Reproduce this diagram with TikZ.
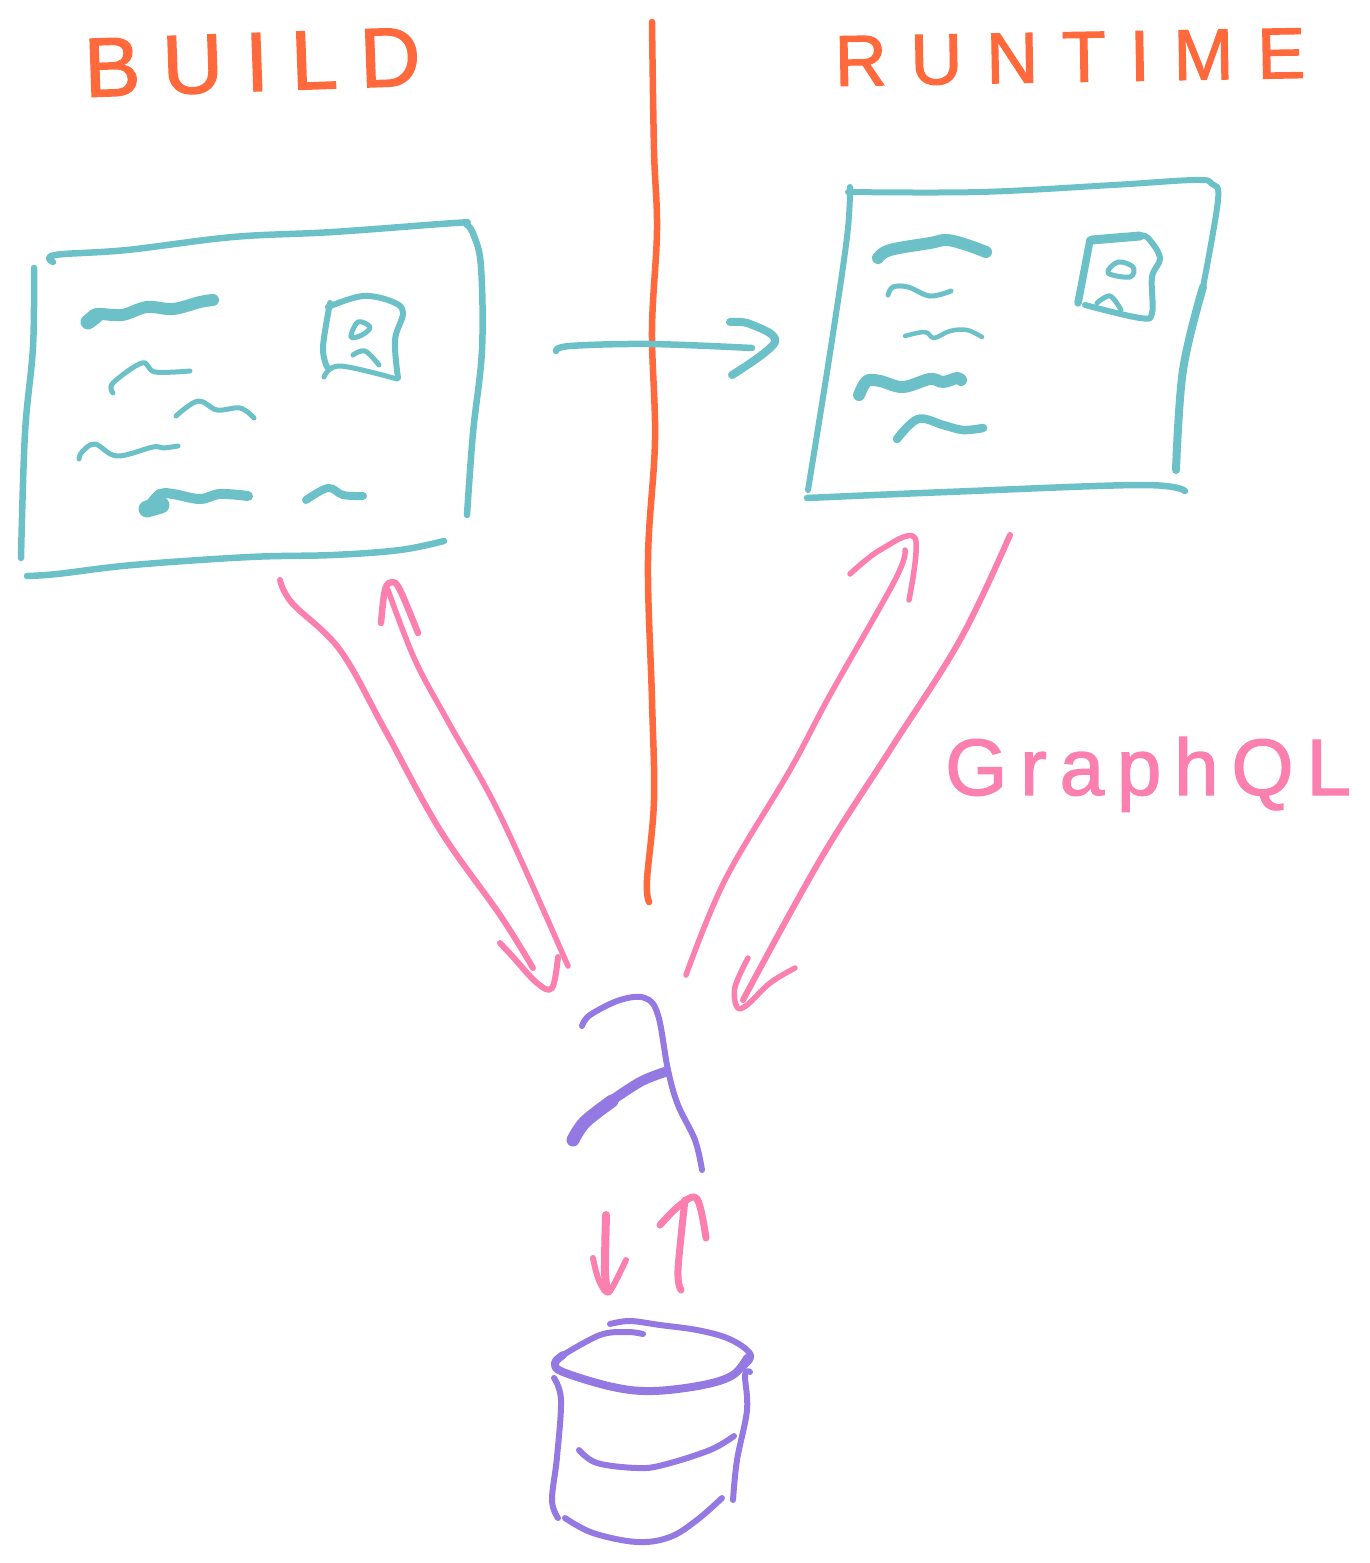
\documentclass[tikz,border=0pt]{standalone}
\usepackage{fontspec}
\setmainfont{Liberation Sans}
\newfontfamily\handA[LetterSpace=26.5,FakeBold=1.6]{Liberation Sans}
\newfontfamily\handB[LetterSpace=33,FakeBold=1.6]{Liberation Sans}
\newfontfamily\handC[LetterSpace=16,FakeBold=1.6]{Liberation Sans}
\definecolor{sketchorange}{HTML}{FF693C}
\definecolor{sketchteal}{HTML}{6CC1C9}
\definecolor{sketchpink}{HTML}{FB80B0}
\definecolor{sketchpurple}{HTML}{9579E2}
\tikzset{
  ink/.style={line cap=round,line join=round,line width=#1},
  ink/.default=5pt,
  tealink/.style={ink=#1,draw=sketchteal},
  pinkink/.style={ink=#1,draw=sketchpink},
  purpleink/.style={ink=#1,draw=sketchpurple},
  orangeink/.style={ink=#1,draw=sketchorange},
  hand/.style={inner sep=0pt,anchor=base west},
}
\newcommand{\stroke}[2]{\draw[#1] plot[smooth,tension=0.6] coordinates {#2};}
\begin{document}
\begin{tikzpicture}[x=1pt,y=-1pt]
\useasboundingbox (0,0) rectangle (1370,1563);
% titles
\node[hand,text=sketchorange,rotate=2] (build) at (85,97) {\fontsize{84}{84}\selectfont\handA BUILD};
\node[hand,text=sketchorange,rotate=1] (runtime) at (835,86) {\fontsize{72}{72}\selectfont\handB RUNTIME};
\node[hand,text=sketchpink] (graphql) at (945,795) {\fontsize{80}{80}\selectfont\handC GraphQL};
% divider
\stroke{orangeink=6.5pt}{(652,22)(654,150)(657,230)(652,330)(655,440)(648,560)(652,700)(654,800)(647,880)(649,902)}
% left page
\stroke{tealink=6.5pt}{(34,268)(33,347)(25,433)(21,558)}
\stroke{tealink=6.5pt}{(53,262)(55,255)(127,250)(233,237)(333,232)(455,223)(466,224)(474,236)(481,267)(482,350)(473,433)(467,515)}
\stroke{tealink=6.5pt}{(27,576)(57,574)(133,565)(250,557)(333,555)(400,550)(444,541)}
\stroke{tealink=12pt}{(90,320)(97,314)(122,315)(147,307)(173,309)(200,302)(213,300)}
\stroke{tealink=15pt}{(88,322)(96,316)}
\stroke{tealink=5pt}{(113,393)(113,383)(142,363)(155,372)(190,371)}
\stroke{tealink=5pt}{(176,416)(198,401)(217,410)(240,408)(254,418)}
\stroke{tealink=5pt}{(79,459)(82,452)(95,444)(117,456)(153,447)(163,448)(178,446)}
\stroke{tealink=10pt}{(150,505)(160,494)(173,494)(200,499)(220,494)(248,496)}
\stroke{tealink=17pt}{(147,509)(161,505)}
\stroke{tealink=8pt}{(306,500)(328,488)(343,495)(363,496)}
\stroke{tealink=6pt}{(327,367)(323,347)(330,303)}
\stroke{tealink=6pt}{(328,307)(363,296)(393,302)(403,313)(395,340)(398,378)}
\stroke{tealink=5pt}{(324,377)(340,366)(397,379)}
\draw[tealink=5pt] plot[smooth cycle,tension=0.6] coordinates {(351,337)(358,322)(370,327)(362,335)};
\stroke{tealink=5pt}{(353,355)(365,351)(379,365)}
% right page
\stroke{tealink=6pt}{(850,187)(847,237)(830,353)(808,490)}
\stroke{tealink=6pt}{(848,192)(980,192)(1113,185)(1195,180)(1212,184)(1218,200)(1203,287)}
\stroke{tealink=8pt}{(1203,287)(1183,370)(1176,470)}
\stroke{tealink=6.5pt}{(807,498)(947,492)(1140,485)(1185,491)}
\stroke{tealink=12pt}{(878,258)(890,250)(930,243)(947,240)(967,245)(986,252)}
\stroke{tealink=5pt}{(888,295)(893,287)(908,287)(930,296)(951,291)}
\stroke{tealink=4.5pt}{(905,336)(925,332)(934,338)(950,331)(967,330)(982,337)}
\stroke{tealink=12pt}{(859,395)(867,381)(880,381)(903,387)(930,379)(943,382)(957,378)(961,380)}
\stroke{tealink=8.5pt}{(897,439)(918,419)(943,425)(963,430)(983,428)}
\stroke{tealink=7.5pt}{(1090,240)(1083,277)(1078,303)}
\stroke{tealink=9pt}{(1092,240)(1140,236)}
\stroke{tealink=6pt}{(1140,236)(1148,238)(1160,258)(1152,277)(1152,313)(1140,318)(1085,305)}
\draw[tealink=5pt] plot[smooth cycle,tension=0.6] coordinates {(1108,273)(1118,262)(1133,267)(1130,277)};
\stroke{tealink=5pt}{(1097,303)(1110,296)(1121,310)}
% build to runtime arrow
\stroke{tealink=6.5pt}{(556,351)(570,346)(650,344)(752,348)}
\stroke{tealink=8pt}{(730,322)(750,324)(775,342)(732,375)}
% page to lambda arrows
\stroke{pinkink=6pt}{(280,580)(292,603)(340,650)(385,730)(440,830)(500,915)(533,968)}
\stroke{pinkink=6pt}{(500,943)(513,957)(537,983)(552,988)(558,957)}
\stroke{pinkink=5.5pt}{(568,966)(500,815)(450,725)(415,660)(388,590)}
\stroke{pinkink=6.5pt}{(381,623)(385,590)(392,582)(400,590)(418,633)}
\stroke{pinkink=5.5pt}{(686,975)(725,880)(790,770)(830,695)(895,580)(905,550)}
\stroke{pinkink=5.5pt}{(850,574)(880,550)(915,538)(909,600)}
\stroke{pinkink=6pt}{(1010,535)(960,640)(890,750)(820,860)(743,1000)}
\stroke{pinkink=5.5pt}{(748,958)(735,987)(737,1007)(747,1005)(770,983)(795,968)}
% lambda
\stroke{purpleink=6pt}{(582,1026)(590,1015)(620,1000)(645,998)(658,1015)(668,1070)(678,1105)(695,1140)(702,1170)}
\stroke{purpleink=13pt}{(573,1140)(585,1122)(612,1101)}
\stroke{purpleink=10pt}{(608,1103)(640,1082)(665,1072)}
% lambda to database arrows
\stroke{pinkink=8pt}{(606,1215)(605,1270)(607,1290)}
\stroke{pinkink=6pt}{(593,1258)(598,1278)(606,1292)(612,1288)(626,1260)}
\stroke{pinkink=7pt}{(681,1290)(678,1270)(685,1200)}
\stroke{pinkink=7pt}{(660,1225)(680,1205)(697,1199)(706,1238)}
% database
\stroke{purpleink=6pt}{(610,1324)(630,1321)(660,1325)(697,1330)(727,1338)(747,1350)(750,1360)(733,1375)}
\stroke{purpleink=8pt}{(747,1358)(733,1375)(703,1385)(653,1391)(613,1387)(563,1372)(555,1363)(563,1355)}
\stroke{purpleink=6pt}{(563,1355)(600,1335)(627,1332)(643,1334)}
\stroke{purpleink=6pt}{(554,1378)(561,1400)(557,1457)(552,1500)(558,1518)}
\stroke{purpleink=6pt}{(750,1372)(745,1375)(747,1410)(737,1460)(733,1500)}
\stroke{purpleink=6pt}{(579,1450)(597,1463)(637,1468)(663,1465)(710,1450)(734,1436)}
\stroke{purpleink=6pt}{(565,1518)(593,1533)(637,1542)(670,1537)(697,1520)(722,1498)}
\end{tikzpicture}
\end{document}
